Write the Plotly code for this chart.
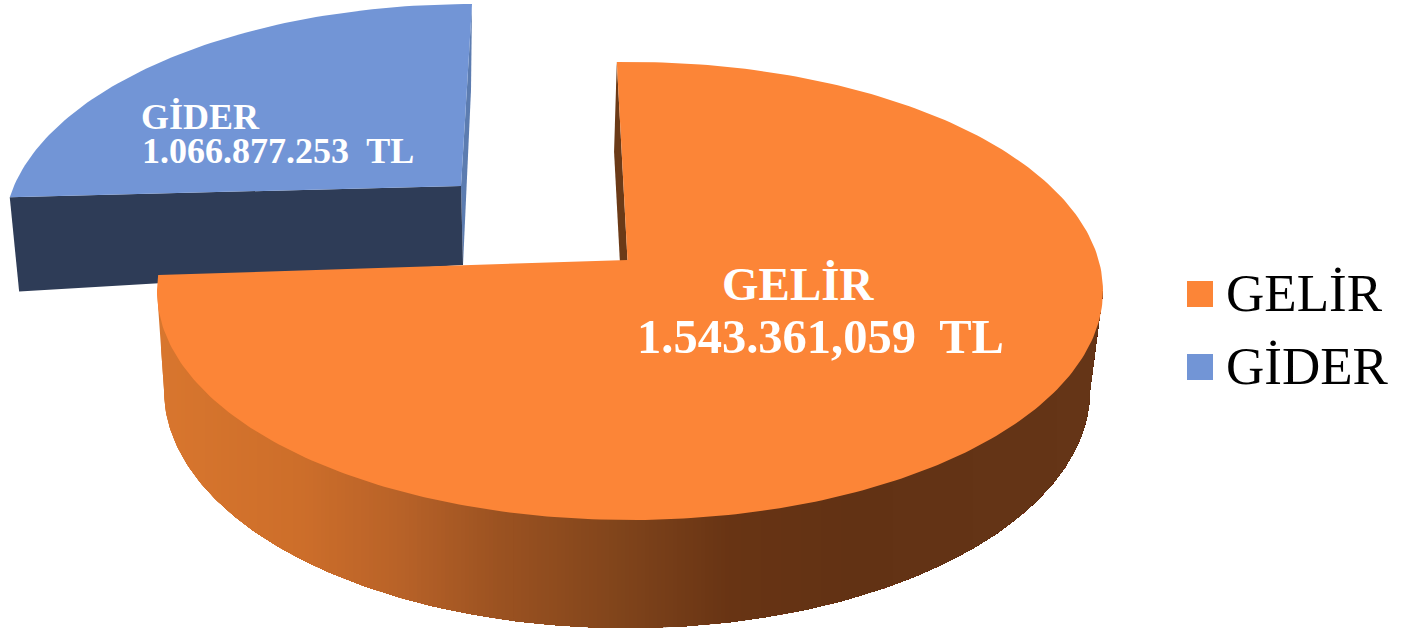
import numpy as np
import plotly.graph_objects as go

# ---- data ----
categories = ["GELİR", "GİDER"]
amount_labels = ["1.543.361,059  TL", "1.066.877.253  TL"]
drawn_sweep_deg = [275.6, 81.0]      # angular extent of each slice as drawn
slice_start_deg = [-1.6, -81.0]      # clockwise from 12 o'clock
colors = ["#FC8537", "#7295D6"]

# ---- projection settings (ellipses of the tilted pie) ----
W, H = 1401, 629
GELIR_TOP = dict(cx=630, cy=291, rx=473, ry=229, apex=(627.5, 260))
GELIR_BOT = dict(cx=627, cy=390, rx=463, ry=238, apex=(625, 358))
GIDER_TOP = dict(cx=472, cy=233, rx=468, ry=229, apex=(461, 186))
GIDER_BOT = dict(cx=471, cy=329, rx=457.5, ry=239, apex=(463, 265))


def rim(e, deg):
    t = np.radians(deg)
    return e["cx"] + e["rx"] * np.sin(t), e["cy"] - e["ry"] * np.cos(t)


def poly(xs, ys, color):
    return go.Scatter(
        x=list(xs), y=list(ys), mode="lines", fill="toself", fillcolor=color,
        line=dict(color=color, width=0), hoverinfo="skip", showlegend=False,
    )


def shade(x):
    stops_x = [160, 300, 400, 500, 620, 730, 850, 1100]
    stops = np.array([[216, 118, 46], [205, 110, 42], [184, 98, 40], [155, 82, 33],
                      [128, 68, 27], [104, 52, 20], [98, 50, 20], [101, 53, 23]], float)
    rgb = [np.interp(x, stops_x, stops[:, i]) for i in range(3)]
    return "rgb(%d,%d,%d)" % tuple(int(round(v)) for v in rgb)


fig = go.Figure()

# GİDER slice
g0, gs = slice_start_deg[1], drawn_sweep_deg[1]
ts = np.linspace(g0, g0 + gs, 80)
xe, ye = rim(GIDER_TOP, g0)
xe2, ye2 = rim(GIDER_BOT, g0)
xs0, ys0 = rim(GIDER_TOP, 0)
xs1, ys1 = rim(GIDER_BOT, 0)
a = GIDER_TOP["apex"]
b = GIDER_BOT["apex"]
fig.add_trace(poly([xs0, xs1, b[0], a[0], xs0], [ys0, ys1, b[1], a[1], ys0], "#5C7CB0"))
fig.add_trace(poly([xe, a[0], b[0], xe2, xe], [ye, a[1], b[1], ye2, ye], "#2E3C57"))
xr, yr = rim(GIDER_TOP, ts)
fig.add_trace(poly(list(xr) + [a[0], xr[0]], list(yr) + [a[1], yr[0]], colors[1]))

# GELİR slice: cut wall, shaded side, top
s0, ss = slice_start_deg[0], drawn_sweep_deg[0]
a = GELIR_TOP["apex"]
b = GELIR_BOT["apex"]
x0, y0 = rim(GELIR_TOP, s0)
x1, y1 = rim(GELIR_BOT, s0)
fig.add_trace(poly([x0, x1, b[0], a[0], x0], [y0, y1, b[1], a[1], y0], "#6B3A17"))

# The side is painted left to right as ever smaller copies of its outline,
# so the colour bands run vertically and leave no seams.
low_t = np.linspace(270, 90, 241)
low_x, low_y = rim(GELIR_BOT, low_t)
left_x, left_y = rim(GELIR_TOP, 270)
right_x, right_y = rim(GELIR_TOP, 90)
out_x = np.concatenate([[left_x], low_x, [right_x]])
out_y = np.concatenate([[left_y], low_y, [right_y]])
for xi in np.arange(left_x, right_x, 4.0):
    keep = out_x > xi
    px = np.concatenate([[xi, right_x], out_x[keep][::-1], [xi]])
    yi = np.interp(xi, out_x, out_y)
    py = np.concatenate([[left_y, right_y], out_y[keep][::-1], [yi]])
    fig.add_trace(poly(px, py, shade(xi + 2)))

ts = np.linspace(s0, s0 + ss, 300)
xr, yr = rim(GELIR_TOP, ts)
fig.add_trace(poly(list(xr) + [a[0], xr[0]], list(yr) + [a[1], yr[0]], colors[0]))

# Legend swatches
legend_y = [294, 367]
fig.add_trace(go.Scatter(
    x=[1200, 1200], y=legend_y, mode="markers", hoverinfo="skip", showlegend=False,
    marker=dict(symbol="square", size=26, color=colors, line=dict(width=0)),
))

SERIF = "Liberation Serif"
ann = []
for name, y in zip(categories, legend_y):
    ann.append(dict(x=1224, y=y - 1, text=name, xanchor="left", yanchor="middle", showarrow=False,
                    font=dict(family=SERIF, size=53, color="#000000")))
ann.append(dict(x=798, y=284, text="<b>%s</b>" % categories[0], showarrow=False,
                font=dict(family=SERIF, size=47, color="#FFFFFF")))
ann.append(dict(x=820.5, y=336, text="<b>%s</b>" % amount_labels[0], showarrow=False,
                font=dict(family=SERIF, size=48.5, color="#FFFFFF")))
ann.append(dict(x=139, y=117, text="<b>%s</b>" % categories[1], xanchor="left", showarrow=False,
                font=dict(family=SERIF, size=36, color="#FFFFFF")))
ann.append(dict(x=140, y=151, text="<b>%s</b>" % amount_labels[1], xanchor="left", showarrow=False,
                font=dict(family=SERIF, size=36, color="#FFFFFF")))

fig.update_layout(
    width=W, height=H, margin=dict(l=0, r=0, t=0, b=0), autosize=False,
    paper_bgcolor="white", plot_bgcolor="white", showlegend=False, annotations=ann,
    xaxis=dict(range=[0, W], visible=False, fixedrange=True),
    yaxis=dict(range=[H, 0], visible=False, fixedrange=True),
)
fig.write_html(
    "out.html", config={"displayModeBar": False},
    post_script="document.body.style.margin='0';document.documentElement.style.overflow='hidden';",
)
